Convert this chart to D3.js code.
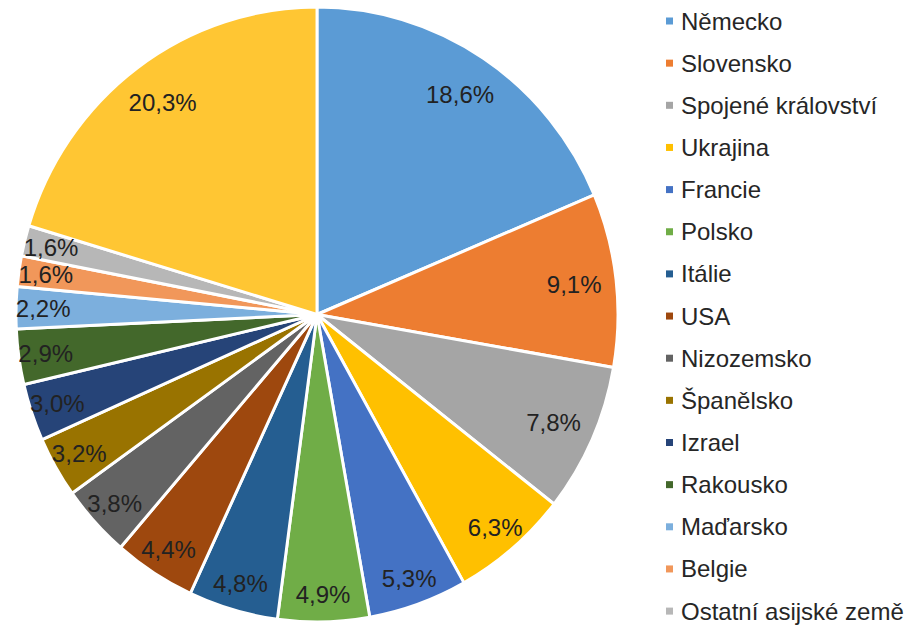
<!DOCTYPE html>
<html>
<head>
<meta charset="utf-8">
<script src="https://cdn.jsdelivr.net/npm/d3@7"></script>
<style>
  html, body { margin: 0; padding: 0; background: #fff; }
  svg { display: block; font-family: "Liberation Sans", Arial, sans-serif; }
</style>
</head>
<body>
<div id="chart"></div>
<script>
// podíly zemí (%), pořadí jako v legendě; poslední výseč v legendě není vidět
const countries = ["Německo", "Slovensko", "Spojené království", "Ukrajina", "Francie", "Polsko",
  "Itálie", "USA", "Nizozemsko", "Španělsko", "Izrael", "Rakousko", "Maďarsko", "Belgie",
  "Ostatní asijské země", "Ostatní"];
const shares = [18.6, 9.1, 7.8, 6.3, 5.3, 4.9, 4.8, 4.4, 3.8, 3.2, 3.0, 2.9, 2.2, 1.6, 1.6, 20.3];
const colors = ["#5b9bd5", "#ed7d31", "#a5a5a5", "#ffc000", "#4472c4", "#70ad47", "#255e91",
  "#9e480e", "#636363", "#997300", "#264478", "#43682b", "#7cafdd", "#f1975a", "#b7b7b7", "#ffc633"];
const legendCount = 15;

const W = 906, H = 629;
const cx = 317, cy = 314.5, ry = 307.5, rx = 301;
const sx = rx / ry;

const data = countries.map((c, i) => ({ name: c, value: shares[i], color: colors[i] }));

const svg = d3.select("#chart").append("svg").attr("width", W).attr("height", H);

const pie = d3.pie().value(d => d.value).sort(null);
const arcs = pie(data);
const arc = d3.arc().innerRadius(0).outerRadius(ry);

const gPie = svg.append("g").attr("transform", `translate(${cx},${cy}) scale(${sx},1)`);
gPie.selectAll("path").data(arcs).join("path")
  .attr("d", arc)
  .attr("fill", d => d.data.color)
  .attr("stroke", "#fff").attr("stroke-width", 3).attr("stroke-linejoin", "round");

// popisky: velké výseče blíž středu, malé u okraje
const fmt = v => v.toFixed(1).replace(".", ",") + "%";
const labelPos = d => {
  const a = (d.startAngle + d.endAngle) / 2, k = d.data.value >= 7 ? 0.86 : 0.91;
  return [cx + Math.sin(a) * rx * k, cy - Math.cos(a) * ry * k];
};
svg.append("g").selectAll("text").data(arcs).join("text")
  .attr("x", d => labelPos(d)[0])
  .attr("y", d => labelPos(d)[1])
  .attr("text-anchor", "middle").attr("dominant-baseline", "central")
  .attr("font-size", 24).attr("fill", "#222")
  .text(d => fmt(d.data.value));

// legenda
const leg = svg.append("g").attr("transform", "translate(666,21)");
const item = leg.selectAll("g").data(data.slice(0, legendCount)).join("g")
  .attr("transform", (d, i) => `translate(0,${i * 42.15})`);
item.append("rect").attr("x", 0).attr("y", -3.5).attr("width", 7).attr("height", 7)
  .attr("fill", d => d.color);
item.append("text").attr("x", 15).attr("y", 0).attr("dominant-baseline", "central")
  .attr("font-size", 24).attr("fill", "#262626")
  .text(d => d.name);
</script>
</body>
</html>
